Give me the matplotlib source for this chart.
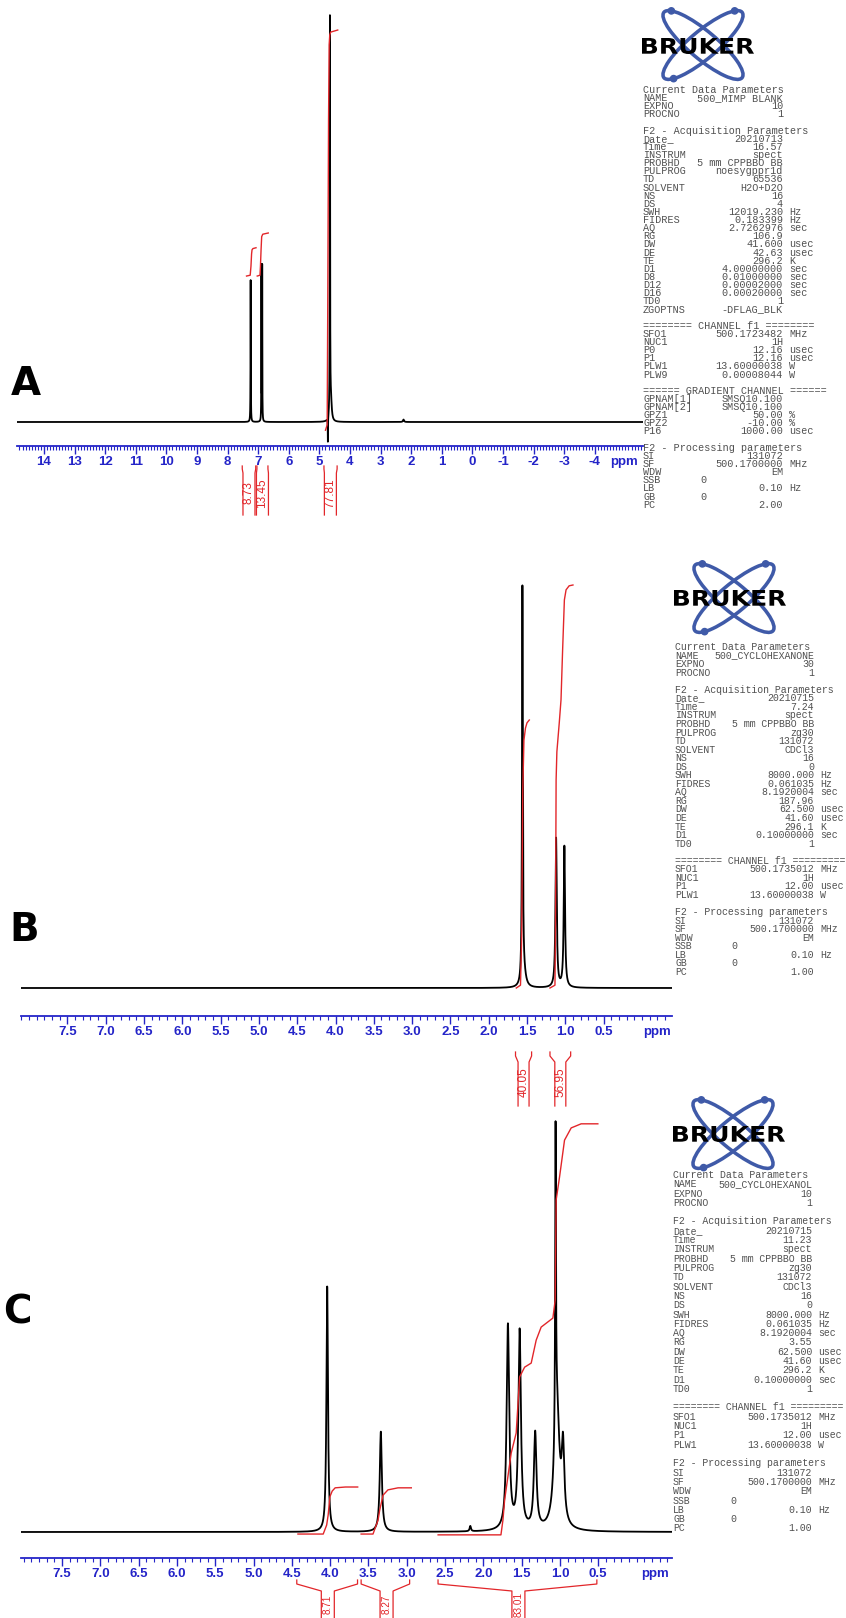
import numpy as np
import matplotlib
matplotlib.use("Agg")
import matplotlib.pyplot as plt
from matplotlib import transforms
from matplotlib.patches import Ellipse, Circle, PathPatch
from matplotlib.textpath import TextPath
from matplotlib.font_manager import FontProperties
from matplotlib.ticker import MultipleLocator

W, H, DPI = 846, 1618, 100
BLUE = "#2424c8"
RED = "#e2262a"
GREY = "#505050"
LOGO_BLUE = "#3f5aa8"

# ------------------------------------------------------------------ data
# Panel A (500_MIMP BLANK, H2O+D2O)
a_peak_ppm = [7.245, 6.893, 6.868, 4.655, 4.622, 4.722, 2.25]
a_peak_height = [34.6, 37.6, 37.6, 97.0, 5.0, -6.0, 0.6]
a_peak_hwhm = [0.005, 0.004, 0.004, 0.006, 0.03, 0.004, 0.02]
a_int_ppm = [[7.38, 7.26, 7.235, 7.215, 7.20, 7.17, 7.07],
             [7.03, 6.94, 6.925, 6.905, 6.885, 6.85, 6.67],
             [4.80, 4.745, 4.725, 4.70, 4.68, 4.66, 4.63, 4.40]]
a_int_level = [[35.6, 35.8, 38.0, 41.0, 42.0, 42.3, 42.5],
               [35.6, 35.8, 38.0, 42.0, 45.2, 45.8, 46.1],
               [-2.0, -0.7, 29.8, 73.7, 92.0, 94.4, 95.1, 95.6]]
a_int_values = ["8.73", "13.45", "77.81"]
a_int_edges = [(7.52, 7.08), (7.04, 6.68), (4.85, 4.42)]
a_int_centers = [7.30, 6.86, 4.64]
a_ticks = [14, 13, 12, 11, 10, 9, 8, 7, 6, 5, 4, 3, 2, 1, 0, -1, -2, -3, -4]
a_ticklabels = ["14", "13", "12", "11", "10", "9", "8", "7", "6", "5", "4",
                "3", "2", "1", "0", "-1", "-2", "-3", "-4"]

# Panel B (500_CYCLOHEXANONE, CDCl3)
b_peak_ppm = [1.560, 1.540, 1.120, 1.012]
b_peak_height = [97.8, 3.0, 37.0, 35.0]
b_peak_hwhm = [0.006, 0.03, 0.010, 0.010]
b_int_ppm = [[1.64, 1.585, 1.57, 1.555, 1.54, 1.52, 1.50, 1.47],
             [1.20, 1.135, 1.128, 1.120, 1.110, 1.078, 1.056, 1.035, 1.012, 0.99, 0.95, 0.90]]
b_int_level = [[0.0, 0.7, 11.9, 49.1, 61.5, 64.5, 65.8, 66.5],
               [0.0, 0.7, 14.4, 51.6, 58.6, 66.0, 71.5, 83.9, 96.3, 98.8, 99.8, 100.0]]
b_int_values = ["40.05", "56.95"]
b_int_edges = [(1.65, 1.44), (1.20, 0.93)]
b_int_centers = [1.545, 1.065]

# Panel C (500_CYCLOHEXANOL, CDCl3)
c_peak_ppm = [4.038, 3.338, 2.170, 1.679, 1.526, 1.323, 1.057, 1.040, 0.960]
c_peak_height = [60.0, 24.5, 1.3, 50.0, 48.5, 23.5, 74.0, 30.0, 18.0]
c_peak_hwhm = [0.012, 0.016, 0.010, 0.020, 0.020, 0.020, 0.006, 0.040, 0.020]
c_int_ppm = [[4.42, 4.09, 4.045, 4.025, 4.003, 3.973, 3.934, 3.80, 3.64],
             [3.595, 3.44, 3.374, 3.352, 3.309, 3.245, 3.113, 2.94],
             [2.59, 1.77, 1.744, 1.722, 1.636, 1.571, 1.526, 1.461, 1.375, 1.310,
              1.245, 1.092, 1.062, 1.049, 1.005, 0.940, 0.853, 0.723, 0.505]]
c_int_level = [[-0.5, -0.5, 1.7, 4.2, 8.6, 10.0, 10.8, 11.0, 11.0],
               [-0.5, -0.5, 2.9, 5.4, 9.0, 10.3, 10.8, 10.8],
               [-0.7, -0.7, 2.9, 7.8, 19.3, 24.2, 37.9, 40.3, 41.3, 46.9,
                50.1, 52.3, 56.7, 81.2, 86.8, 95.8, 98.8, 99.8, 99.8]]
c_int_values = ["8.71", "8.27", "83.01"]
c_int_edges = [(4.435, 3.642), (3.595, 2.962), (2.591, 0.518)]
c_int_centers = [4.03, 3.263, 1.542]

bc_ticks = [7.5, 7.0, 6.5, 6.0, 5.5, 5.0, 4.5, 4.0, 3.5, 3.0, 2.5, 2.0, 1.5, 1.0, 0.5]
bc_ticklabels = ["7.5", "7.0", "6.5", "6.0", "5.5", "5.0", "4.5", "4.0", "3.5",
                 "3.0", "2.5", "2.0", "1.5", "1.0", "0.5"]

# Parameter listings (label, value, unit[, column])
a_params = [
    ("Current Data Parameters",), ("NAME", "500_MIMP BLANK", ""), ("EXPNO", "10", ""),
    ("PROCNO", "1", ""), None,
    ("F2 - Acquisition Parameters",), ("Date_", "20210713", ""), ("Time", "16.57", ""),
    ("INSTRUM", "spect", ""), ("PROBHD", "5 mm CPPBBO BB", ""), ("PULPROG", "noesygppr1d", ""),
    ("TD", "65536", ""), ("SOLVENT", "H2O+D2O", ""), ("NS", "16", ""), ("DS", "4", ""),
    ("SWH", "12019.230", "Hz"), ("FIDRES", "0.183399", "Hz"), ("AQ", "2.7262976", "sec"),
    ("RG", "106.9", ""), ("DW", "41.600", "usec"), ("DE", "42.63", "usec"),
    ("TE", "296.2", "K"), ("D1", "4.00000000", "sec"), ("D8", "0.01000000", "sec"),
    ("D12", "0.00002000", "sec"), ("D16", "0.00020000", "sec"), ("TD0", "1", ""),
    ("ZGOPTNS", "-DFLAG_BLK", ""), None,
    ("======== CHANNEL f1 ========",), ("SFO1", "500.1723482", "MHz"), ("NUC1", "1H", ""),
    ("P0", "12.16", "usec"), ("P1", "12.16", "usec"), ("PLW1", "13.60000038", "W"),
    ("PLW9", "0.00008044", "W"), None,
    ("====== GRADIENT CHANNEL ======",), ("GPNAM[1]", "SMSQ10.100", ""),
    ("GPNAM[2]", "SMSQ10.100", ""), ("GPZ1", "50.00", "%"), ("GPZ2", "-10.00", "%"),
    ("P16", "1000.00", "usec"), None,
    ("F2 - Processing parameters",), ("SI", "131072", ""), ("SF", "500.1700000", "MHz"),
    ("WDW", "EM", ""), ("SSB", "0", "", "mid"), ("LB", "0.10", "Hz"), ("GB", "0", "", "mid"),
    ("PC", "2.00", ""),
]
b_params = [
    ("Current Data Parameters",), ("NAME", "500_CYCLOHEXANONE", ""), ("EXPNO", "30", ""),
    ("PROCNO", "1", ""), None,
    ("F2 - Acquisition Parameters",), ("Date_", "20210715", ""), ("Time", "7.24", ""),
    ("INSTRUM", "spect", ""), ("PROBHD", "5 mm CPPBBO BB", ""), ("PULPROG", "zg30", ""),
    ("TD", "131072", ""), ("SOLVENT", "CDCl3", ""), ("NS", "16", ""), ("DS", "0", ""),
    ("SWH", "8000.000", "Hz"), ("FIDRES", "0.061035", "Hz"), ("AQ", "8.1920004", "sec"),
    ("RG", "187.96", ""), ("DW", "62.500", "usec"), ("DE", "41.60", "usec"),
    ("TE", "296.1", "K"), ("D1", "0.10000000", "sec"), ("TD0", "1", ""), None,
    ("======== CHANNEL f1 =========",), ("SFO1", "500.1735012", "MHz"), ("NUC1", "1H", ""),
    ("P1", "12.00", "usec"), ("PLW1", "13.60000038", "W"), None,
    ("F2 - Processing parameters",), ("SI", "131072", ""), ("SF", "500.1700000", "MHz"),
    ("WDW", "EM", ""), ("SSB", "0", "", "mid"), ("LB", "0.10", "Hz"), ("GB", "0", "", "mid"),
    ("PC", "1.00", ""),
]
c_params = [
    ("Current Data Parameters",), ("NAME", "500_CYCLOHEXANOL", ""), ("EXPNO", "10", ""),
    ("PROCNO", "1", ""), None,
    ("F2 - Acquisition Parameters",), ("Date_", "20210715", ""), ("Time", "11.23", ""),
    ("INSTRUM", "spect", ""), ("PROBHD", "5 mm CPPBBO BB", ""), ("PULPROG", "zg30", ""),
    ("TD", "131072", ""), ("SOLVENT", "CDCl3", ""), ("NS", "16", ""), ("DS", "0", ""),
    ("SWH", "8000.000", "Hz"), ("FIDRES", "0.061035", "Hz"), ("AQ", "8.1920004", "sec"),
    ("RG", "3.55", ""), ("DW", "62.500", "usec"), ("DE", "41.60", "usec"),
    ("TE", "296.2", "K"), ("D1", "0.10000000", "sec"), ("TD0", "1", ""), None,
    ("======== CHANNEL f1 =========",), ("SFO1", "500.1735012", "MHz"), ("NUC1", "1H", ""),
    ("P1", "12.00", "usec"), ("PLW1", "13.60000038", "W"), None,
    ("F2 - Processing parameters",), ("SI", "131072", ""), ("SF", "500.1700000", "MHz"),
    ("WDW", "EM", ""), ("SSB", "0", "", "mid"), ("LB", "0.10", "Hz"), ("GB", "0", "", "mid"),
    ("PC", "1.00", ""),
]

# ------------------------------------------------------------------ figure
fig = plt.figure(figsize=(W / DPI, H / DPI), dpi=DPI)
fig.patch.set_facecolor("white")
ov = fig.add_axes([0, 0, 1, 1], zorder=0)
ov.set_xlim(0, W)
ov.set_ylim(H, 0)
ov.axis("off")


def px_axes(x0, y0, x1, y1):
    return fig.add_axes([x0 / W, 1 - y1 / H, (x1 - x0) / W, (y1 - y0) / H], zorder=1)


def spectrum_panel(x0, x1, top, base_px, axis_px, peak_px, xlim, centers, heights, hwhm,
                   ticks, ticklabels, minor, ppm_pos, int_ppm, int_lvl):
    ax = px_axes(x0, top, x1, axis_px)
    ax.set_facecolor("none")
    x = np.linspace(xlim[0], xlim[1], 60000)
    y = np.zeros_like(x)
    for c, h, w in zip(centers, heights, hwhm):
        y += h * w ** 2 / ((x - c) ** 2 + w ** 2)
    ax.plot(x, y, color="black", lw=1.3, zorder=2)
    for px_, lv in zip(int_ppm, int_lvl):
        ax.plot(px_, lv, color=RED, lw=1.0, zorder=3)
    k = (base_px - peak_px) / 100.0
    ax.set_xlim(*xlim)
    ax.set_ylim(-(axis_px - base_px) / k, (base_px - top) / k)
    for s in ("top", "left", "right"):
        ax.spines[s].set_visible(False)
    ax.spines["bottom"].set_color(BLUE)
    ax.spines["bottom"].set_linewidth(1.3)
    ax.set_yticks([])
    ax.set_xticks(list(ticks) + [ppm_pos], labels=list(ticklabels) + ["ppm"])
    ax.xaxis.set_minor_locator(MultipleLocator(minor))
    ax.tick_params(axis="x", which="major", direction="out", length=6, width=1.0,
                   color=BLUE, labelcolor=BLUE, labelsize=9.5, pad=1.5)
    ax.tick_params(axis="x", which="minor", direction="out", length=3, width=0.8, color=BLUE)
    for t in ax.get_xticklabels():
        t.set_fontweight("bold")
        t.set_fontfamily("Liberation Sans")
    ax.xaxis.get_major_ticks()[-1].tick1line.set_visible(False)
    return ax


def integral_labels(ax, x0, x1, xlim, edges, centers, values, y_top, d1, d2, y_bot,
                    half_w, y_text, fs):
    ppx = (x1 - x0) / (xlim[0] - xlim[1])
    tr = transforms.blended_transform_factory(ax.transData, ov.transData)
    hw = half_w / ppx
    ys = [y_top, y_top + d1, y_top + d1 + d2, y_bot]
    for (el, er), c, v in zip(edges, centers, values):
        ax.plot([el, el, c + hw, c + hw], ys, transform=tr, color=RED, lw=0.9, clip_on=False)
        ax.plot([er, er, c - hw, c - hw], ys, transform=tr, color=RED, lw=0.9, clip_on=False)
        ax.text(c, y_text, v, transform=tr, rotation=90, ha="center", va="center",
                color=RED, fontsize=fs, family="Liberation Sans", clip_on=False)


def stretched_text(s, x0, x1, ytop, ybot, color):
    tp = TextPath((0, 0), s, size=10, prop=FontProperties(family="DejaVu Sans", weight="heavy"))
    bb = tp.get_extents()
    sx = (x1 - x0) / bb.width
    sy = (ybot - ytop) / bb.height
    tr = transforms.Affine2D().translate(-bb.x0, -bb.y0).scale(sx, -sy).translate(x0, ybot) + ov.transData
    ov.add_patch(PathPatch(tp, transform=tr, facecolor=color, edgecolor="none", zorder=5))


def bruker_logo(cx, cy, tx0, tx1, ty0, ty1, s):
    a, b = 52 * s, 14 * s
    for ang in (40, -40):
        ov.add_patch(Ellipse((cx, cy), 2 * a, 2 * b, angle=ang, fill=False,
                             ec=LOGO_BLUE, lw=2.6 * s, zorder=3))
    for ang, t in ((-40, 150), (40, 205), (-40, -25)):
        th, tt = np.radians(ang), np.radians(t)
        px_ = cx + a * np.cos(tt) * np.cos(th) - b * np.sin(tt) * np.sin(th)
        py_ = cy + a * np.cos(tt) * np.sin(th) + b * np.sin(tt) * np.cos(th)
        ov.add_patch(Circle((px_, py_), 3.2 * s, color=LOGO_BLUE, zorder=4))
    stretched_text("BRUKER", tx0, tx1, ty0, ty1, "black")


def param_block(lines, xL, xV, xmid, y0, dy, fs, cw):
    for i, ln in enumerate(lines):
        if ln is None:
            continue
        y = y0 + i * dy
        kw = dict(fontsize=fs, family="Liberation Mono", color=GREY, va="center")
        ov.text(xL, y, ln[0], ha="left", **kw)
        if len(ln) == 1:
            continue
        if len(ln) == 4:
            ov.text(xmid, y, ln[1], ha="left", **kw)
        else:
            ov.text(xV, y, ln[1], ha="right", **kw)
        if ln[2]:
            ov.text(xV + cw, y, ln[2], ha="left", **kw)


# ---------------- Panel A
a_x0, a_x1 = 17, 643
a_xlim = (14.88, -5.575)
axA = spectrum_panel(a_x0, a_x1, 0, 422, 446, 12, a_xlim, a_peak_ppm, a_peak_height, a_peak_hwhm,
                     a_ticks, a_ticklabels, 0.1, -4.95, a_int_ppm, a_int_level)
integral_labels(axA, a_x0, a_x1, a_xlim, a_int_edges, a_int_centers, a_int_values,
                466, 3, 4, 515, 6.0, 493, 8.5)

# ---------------- Panel B
b_x0, b_x1 = 21, 672
b_xlim = (8.106, -0.393)
axB = spectrum_panel(b_x0, b_x1, 530, 988, 1016, 585, b_xlim, b_peak_ppm, b_peak_height, b_peak_hwhm,
                     bc_ticks, bc_ticklabels, 0.1, -0.197, b_int_ppm, b_int_level)
integral_labels(axB, b_x0, b_x1, b_xlim, b_int_edges, b_int_centers, b_int_values,
                1052, 4, 6, 1106, 5.5, 1082, 8.5)

# ---------------- Panel C
c_x0, c_x1 = 21, 672
c_xlim = (8.035, -0.463)
axC = spectrum_panel(c_x0, c_x1, 1090, 1532, 1558, 1123, c_xlim, c_peak_ppm, c_peak_height, c_peak_hwhm,
                     bc_ticks, bc_ticklabels, 0.1, -0.241, c_int_ppm, c_int_level)
integral_labels(axC, c_x0, c_x1, c_xlim, c_int_edges, c_int_centers, c_int_values,
                1580, 4, 7, 1625, 6.5, 1604.5, 7.2)

# ---------------- Panel letters
for lab, (lx, ly) in zip(["A", "B", "C"], [(26, 384), (24, 930), (17, 1313)]):
    ov.text(lx, ly, lab, fontsize=28, fontweight="bold", family="DejaVu Sans",
            ha="center", va="center", color="black")

# ---------------- Logos and parameter listings
bruker_logo(703, 45, 642, 754, 38, 54, 0.98)
param_block(a_params, 643, 783, 700, 90, 8.13, 7.3, 6.1)

bruker_logo(734, 598, 674, 786, 590, 606, 0.98)
param_block(b_params, 675, 814, 731, 647, 8.55, 7.13, 5.94)

bruker_logo(733, 1134, 673, 785, 1126, 1142, 0.98)
param_block(c_params, 673, 812, 730, 1175, 9.3, 7.13, 5.94)

fig.savefig("out.png", dpi=DPI, facecolor="white")
